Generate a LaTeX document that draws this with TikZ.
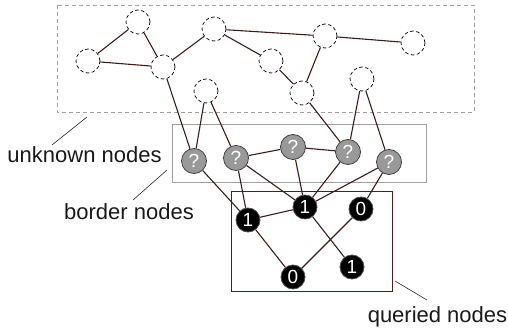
\documentclass[tikz,border=0pt]{standalone}
\usepackage{fontspec}
\setmainfont{Liberation Sans}
\definecolor{edgecol}{HTML}{3A1C1C}
\definecolor{qboxcol}{HTML}{4A2222}
\definecolor{graybox}{HTML}{A0A0A0}
\begin{document}
\begin{tikzpicture}[x=1pt,y=-1pt,
  unk/.style={circle,draw=black,dash pattern=on 3.5pt off 2.5pt,minimum size=24pt,inner sep=0pt,line width=0.7pt},
  brd/.style={circle,draw=black!75,fill=black!40,text=white,minimum size=25pt,inner sep=0pt,line width=0.8pt,font=\fontsize{19}{19}\selectfont},
  qry/.style={circle,draw=black!70,fill=black,text=white,minimum size=24pt,inner sep=0pt,line width=0.8pt,font=\fontsize{19}{19}\selectfont},
  edge/.style={draw=edgecol,line width=1.1pt},
  lab/.style={font=\fontsize{22}{22}\selectfont,text=black!90,inner sep=0pt,anchor=base},
  leader/.style={draw=black!85,line width=0.6pt},
  unkbox/.style={draw=graybox,dash pattern=on 4pt off 3pt,line width=0.8pt},
  brdbox/.style={draw=graybox,line width=0.8pt},
  qbox/.style={draw=qboxcol,line width=0.9pt}
]
\useasboundingbox (0,0) rectangle (508,331);
% boxes
\draw[unkbox] (57,5) rectangle (474,112);
\draw[brdbox] (172,124) rectangle (426,182);
\draw[qbox] (231,191) rectangle (392,291);
% unknown nodes
\node[unk] (A) at (138,22) {};
\node[unk] (B) at (88,61) {};
\node[unk] (C) at (163,67) {};
\node[unk] (D) at (214,29) {};
\node[unk] (E) at (325,36) {};
\node[unk] (F) at (413,43) {};
\node[unk] (G) at (271,61) {};
\node[unk] (H) at (302,93) {};
\node[unk] (I) at (206,91) {};
\node[unk] (J) at (362,79) {};
% border nodes
\node[brd] (P1) at (194,161) {?};
\node[brd] (P2) at (236,158) {?};
\node[brd] (P3) at (293,147) {?};
\node[brd] (P4) at (348,152) {?};
\node[brd] (P5) at (389,162) {?};
% queried nodes
\node[qry] (Q1) at (248,220) {1};
\node[qry] (Q2) at (305,207) {1};
\node[qry] (Q3) at (361,209) {0};
\node[qry] (Q4) at (293,277) {0};
\node[qry] (Q5) at (352,267) {1};
% edges
\path[edge] (A) -- (B) (A) -- (C) (B) -- (C) (C) -- (D) (D) -- (E) (D) -- (G)
  (E) -- (F) (E) -- (H) (G) -- (H);
\path[edge] (C) -- (P1) (I) -- (P1) (I) -- (P2) (H) -- (P4) (J) -- (P4) (J) -- (P5);
\path[edge] (P2) -- (P3) (P3) -- (P4);
\path[edge] (P1) -- (Q1) (P2) -- (Q1) (P2) -- (Q2) (P3) -- (Q2) (P4) -- (Q2) (P5) -- (Q2) (P5) -- (Q3);
\path[edge] (Q1) -- (Q2) (Q1) -- (Q4) (Q2) -- (Q5) (Q3) -- (Q4);
% labels
\node[lab] (lu) at (84.5,162.5) {unknown nodes};
\node[lab] (lb) at (129,219) {border nodes};
\node[lab] (lq) at (437.5,322) {queried nodes};
\coordinate (lu1) at (52,145);
\coordinate (lu2) at (87,117);
\coordinate (lb1) at (133,200);
\coordinate (lb2) at (167,170);
\coordinate (lq1) at (395,281);
\coordinate (lq2) at (427,300);
\draw[leader] (lu1) -- (lu2);
\draw[leader] (lb1) -- (lb2);
\draw[leader] (lq1) -- (lq2);
\end{tikzpicture}
\end{document}
